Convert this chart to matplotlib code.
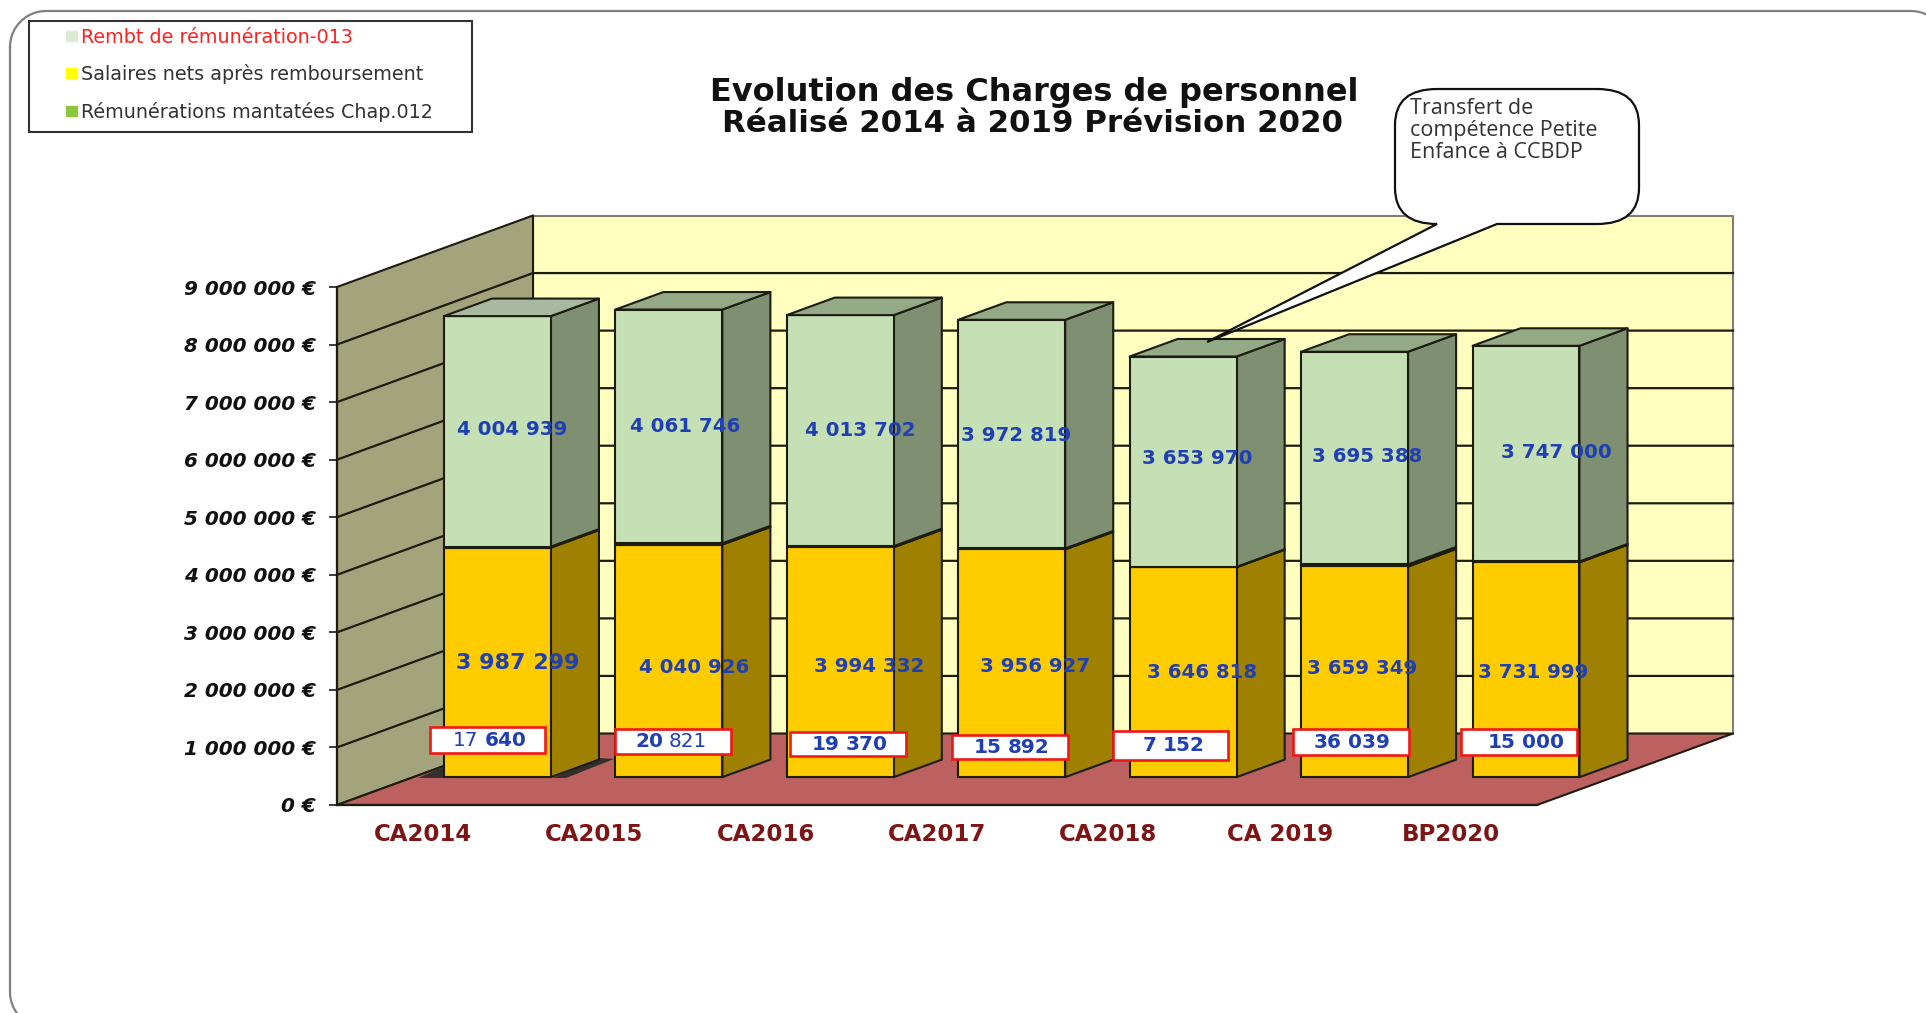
import numpy as np
import matplotlib
matplotlib.use('Agg')
import matplotlib.pyplot as plt
from matplotlib.patches import Polygon, Rectangle, PathPatch, Patch
from matplotlib.path import Path

# values
categories = ['CA2014', 'CA2015', 'CA2016', 'CA2017', 'CA2018', 'CA 2019', 'BP2020']
rembt = [17640, 20821, 19370, 15892, 7152, 36039, 15000]
salaires = [3987299, 4040926, 3994332, 3956927, 3646818, 3659349, 3731999]
remunerations = [4004939, 4061746, 4013702, 3972819, 3653970, 3695388, 3747000]
y_ticks = [0, 1000000, 2000000, 3000000, 4000000, 5000000, 6000000, 7000000, 8000000, 9000000]

# where the labels sit on the picture, in pixels
top_label_pos = [(512, 429), (685, 426), (860, 430), (1016, 435), (1197, 458), (1367, 456), (1556, 452)]
mid_label_pos = [(518, 663), (694, 667), (869, 666), (1035, 666), (1202, 672), (1362, 668), (1533, 672)]
box_pos = [(430, 727, 115, 26), (615, 729, 116, 25), (790, 732, 116, 24), (952, 735, 116, 24),
           (1113, 731, 115, 29), (1293, 729, 116, 26), (1461, 729, 116, 26)]
box_text_dx = [1, 0, 2, 2, 3, 1, 7]
box_weights = [('normal', 'bold'), ('bold', 'normal'), ('bold', 'bold'), ('bold', 'bold'),
               ('bold', 'bold'), ('bold', 'bold'), ('bold', 'bold')]

W, H = 1926, 1013
fig = plt.figure(figsize=(W / 100, H / 100), dpi=100, facecolor='white')

# main axes is the front plane of the box, the depth is sheared on top of it
x0, x1, y0, y9 = 337, 1537, 805, 287
ax = fig.add_axes([x0 / W, 1 - y0 / H, (x1 - x0) / W, (y0 - y9) / H], zorder=1)
ax.set_xlim(0, 7)
ax.set_ylim(0, 9000000)
ax.patch.set_visible(False)

# overlay in pixels for callout, legend box and labels
ov = fig.add_axes([0, 0, 1, 1], zorder=2)
ov.set_xlim(0, W)
ov.set_ylim(H, 0)
ov.axis('off')

DX = 196 / ((x1 - x0) / 7)
DY = 71.5 / ((y0 - y9) / 9000000)
F_FRONT, F_BACK = 0.39, 0.635
BAR_W = 0.624
BAR_SHIFT = -0.01
LINE = '#1c1c10'


def sheared(x, y, f):
    return (x + f * DX, y + f * DY)


def poly(points, color, z, edge=LINE, lw=1.5):
    ax.add_patch(Polygon(points, closed=True, facecolor=color, edgecolor=edge, linewidth=lw,
                         zorder=z, clip_on=False, joinstyle='round'))


# walls and floor
poly([sheared(0, 0, 1), sheared(7, 0, 1), sheared(7, 9000000, 1), sheared(0, 9000000, 1)], '#FFFFC0', 1,
     edge='#808070')
poly([sheared(0, 0, 0), sheared(0, 0, 1), sheared(0, 9000000, 1), sheared(0, 9000000, 0)], '#A4A47C', 1.1)
poly([sheared(0, 0, 0), sheared(7, 0, 0), sheared(7, 0, 1), sheared(0, 0, 1)], '#BC6060', 1.2, edge=LINE)
for v in y_ticks[1:-1]:
    ax.plot(*zip(sheared(0, v, 0), sheared(0, v, 1), sheared(7, v, 1)), color=LINE, lw=1.6, zorder=1.5,
            clip_on=False)

# dark shadow under the first bar
for pts in ([(418, 778), (443, 778), (443, 767)], [(553, 778), (566, 778), (614, 759), (600, 758)]):
    ax.add_patch(Polygon(pts, closed=True, facecolor='#33302c', edgecolor='none', zorder=1.6, clip_on=False,
                         transform=ov.transData))

# stacked 3D bars, from left to right
series = [(salaires, '#FFCC00', '#A08000'), (rembt, '#DDEBD5', '#8F9F88'), (remunerations, '#C5E0B5', '#7F8F72')]
for i in range(len(categories)):
    z = 2 + i
    bottom = 0
    xl = i + 0.5 + BAR_SHIFT - BAR_W / 2
    xr = xl + BAR_W
    for vals, front, side in series:
        v = vals[i]
        top = bottom + v
        poly([sheared(xr, bottom, F_FRONT), sheared(xr, bottom, F_BACK), sheared(xr, top, F_BACK),
              sheared(xr, top, F_FRONT)], side, z)
        ax.bar(sheared(i + 0.5 + BAR_SHIFT, 0, F_FRONT)[0], v, BAR_W, bottom=bottom + F_FRONT * DY, color=front,
               edgecolor=LINE, linewidth=1.5, zorder=z + 0.1, clip_on=False)
        bottom = top
    top_color = '#A9B9A0' if i == 0 else '#94A985'
    poly([sheared(xl, bottom, F_FRONT), sheared(xr, bottom, F_FRONT), sheared(xr, bottom, F_BACK),
          sheared(xl, bottom, F_BACK)], top_color, z + 0.2)

# axes
ax.set_yticks(y_ticks)
ax.set_yticklabels([f'{v:,} €'.replace(',', ' ') for v in y_ticks], fontsize=14.4, fontweight='bold',
                   fontstyle='italic', color='#111111')
ax.set_xticks([i + 0.5 for i in range(len(categories))])
ax.set_xticklabels(categories, fontsize=16.5, fontweight='bold', color='#7F1414')
ax.tick_params(axis='y', length=6, width=1.2, pad=9, color=LINE)
ax.tick_params(axis='x', length=0, pad=13)
ax.spines['top'].set_visible(False)
ax.spines['right'].set_visible(False)
for s in ('left', 'bottom'):
    ax.spines[s].set_color(LINE)
    ax.spines[s].set_linewidth(1.6)
    ax.spines[s].set_zorder(1.9)

# value labels
BLUE = '#1F3FB4'
for i in range(len(categories)):
    xt, yt = top_label_pos[i]
    ov.text(xt, yt, f'{remunerations[i]:,}'.replace(',', ' '), color=BLUE, fontsize=14.2, fontweight='bold',
            ha='center', va='center')
    xm, ym = mid_label_pos[i]
    ov.text(xm, ym, f'{salaires[i]:,}'.replace(',', ' '), color=BLUE, fontsize=16 if i == 0 else 14.2,
            fontweight='bold', ha='center', va='center')
    bx, by, bw, bh = box_pos[i]
    ov.add_patch(Rectangle((bx, by), bw, bh, facecolor='white', edgecolor='#EE1818', linewidth=1.9))
    left, right = f'{rembt[i] // 1000}', f'{rembt[i] % 1000:03d}'
    split = bx + bw / 2 + box_text_dx[i] + (len(left) - len(right)) * 7
    w_left, w_right = box_weights[i]
    ov.text(split - 3, by + bh / 2, left, color=BLUE, fontsize=14.4, fontweight=w_left, ha='right', va='center')
    ov.text(split + 3, by + bh / 2, right, color=BLUE, fontsize=14.4, fontweight=w_right, ha='left', va='center')

# title, the second line is a little narrower in the original
fig.suptitle('Evolution des Charges de personnel', x=1034 / W, y=1 - 92 / H, fontsize=23, fontweight='bold',
             color='#111111', ha='center', va='center', zorder=5)
ov.text(1033, 123, 'Réalisé 2014 à 2019 Prévision 2020', fontsize=22.2, fontweight='bold', color='#111111',
        ha='center', va='center')

# callout
bl, br, bt, bb = 1395, 1639, 89, 224
rx, ry = 42, 36
verts = [(bl + rx, bt), (br - rx, bt), (br, bt), (br, bt + ry), (br, bb - ry), (br, bb), (br - rx, bb),
         (1497, bb), (1207, 342), (1437, bb), (bl + rx, bb), (bl, bb), (bl, bb - ry), (bl, bt + ry), (bl, bt),
         (bl + rx, bt), (bl + rx, bt)]
codes = [Path.MOVETO, Path.LINETO, Path.CURVE3, Path.CURVE3, Path.LINETO, Path.CURVE3, Path.CURVE3,
         Path.LINETO, Path.LINETO, Path.LINETO, Path.LINETO, Path.CURVE3, Path.CURVE3, Path.LINETO, Path.CURVE3,
         Path.CURVE3, Path.CLOSEPOLY]
ov.add_patch(PathPatch(Path(verts, codes), facecolor='white', edgecolor='#111111', linewidth=1.6, zorder=3))
for line, yy in zip(['Transfert de', 'compétence Petite', 'Enfance à CCBDP'], [108, 130, 152]):
    ov.text(1410, yy, line, family='Open Sans', fontsize=15.5, color='#333333', ha='left', va='center', zorder=4)

# legend
ov.add_patch(Rectangle((29, 21), 443, 111, facecolor='white', edgecolor='#333333', linewidth=1.5))
handles = [Patch(color='#DDEBD5', label='Rembt de rémunération-013'),
           Patch(color='#FFFF00', label='Salaires nets après remboursement'),
           Patch(color='#8CC63F', label='Rémunérations mantatées Chap.012')]
ov.legend(handles=handles, loc='upper left', bbox_to_anchor=(66, 28), bbox_transform=ov.transData, frameon=False,
          fontsize=13.8, labelcolor=['#FF2020', '#333333', '#333333'], borderpad=0, borderaxespad=0,
          handlelength=0.58, handleheight=0.42, handletextpad=0.22, labelspacing=0.9)

# rounded frame round the whole slide, sampled so the corners survive clipping at the edge
fl, fr, ft, fb, fr_rad = 10, 1947, 11, 1028, 36
corner = np.linspace(0, np.pi / 2, 16)
cx = np.concatenate([fl + fr_rad - fr_rad * np.cos(corner), fr - fr_rad + fr_rad * np.sin(corner),
                     fr - fr_rad + fr_rad * np.cos(corner), fl + fr_rad - fr_rad * np.sin(corner), [fl]])
cy = np.concatenate([ft + fr_rad - fr_rad * np.sin(corner), ft + fr_rad - fr_rad * np.cos(corner),
                     fb - fr_rad + fr_rad * np.sin(corner), fb - fr_rad + fr_rad * np.cos(corner), [ft + fr_rad]])
ov.plot(cx, cy, color='#808080', lw=1.6, clip_on=True)

fig.savefig('out.png', dpi=100)
